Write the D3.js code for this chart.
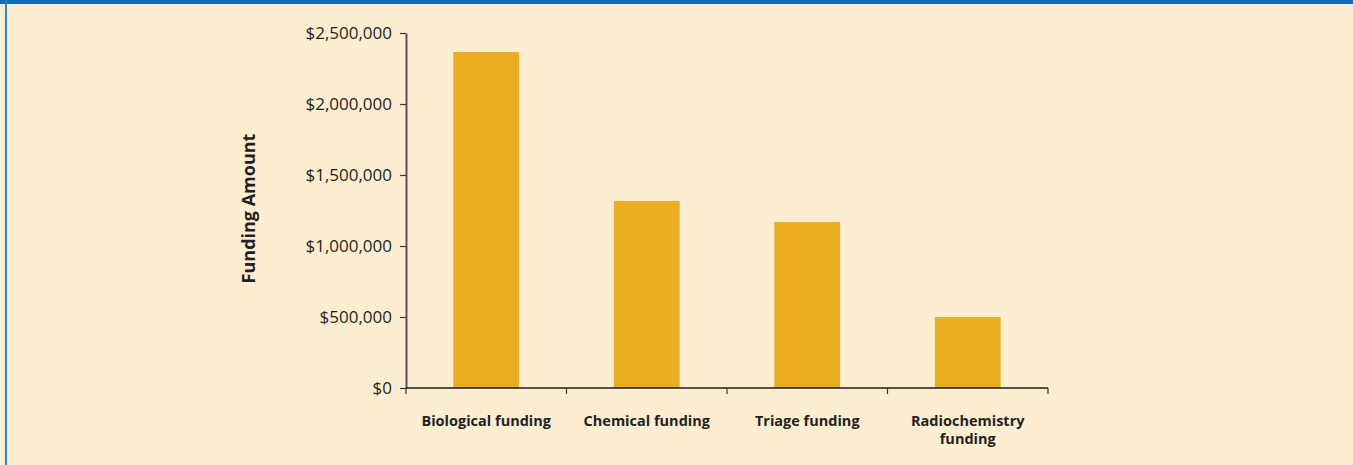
<!DOCTYPE html>
<html>
<head>
<meta charset="utf-8">
<script src="https://cdn.jsdelivr.net/npm/d3@7"></script>
<style>
  html, body { margin: 0; padding: 0; background: #FDEED2; }
  svg { display: block; }
</style>
</head>
<body>
<svg id="chart" width="1353" height="465"></svg>
<script>
// Funding by program area
const categories = ["Biological funding", "Chemical funding", "Triage funding", "Radiochemistry funding"];
const categoryLines = [["Biological funding"], ["Chemical funding"], ["Triage funding"], ["Radiochemistry", "funding"]];
const fundingValues = [2366000, 1317000, 1169000, 500000];
const yTickValues = [0, 500000, 1000000, 1500000, 2000000, 2500000];
const yAxisTitle = "Funding Amount";

const width = 1353, height = 465;
const margin = { top: 33, left: 406, right: 305, bottom: 77 };
const fontFamily = "'Open Sans', 'Liberation Sans', sans-serif";

const svg = d3.select("#chart");

// panel background and blue frame
svg.append("rect").attr("width", width).attr("height", height).attr("fill", "#FDEED2");
svg.append("rect").attr("x", 0).attr("y", 0).attr("width", width).attr("height", 4).attr("fill", "#0B6DB3");
svg.append("rect").attr("x", 5).attr("y", 0).attr("width", 2).attr("height", height).attr("fill", "#2A86C6");

const x = d3.scaleBand()
  .domain(categories)
  .range([margin.left, width - margin.right])
  .paddingInner(0.59)
  .paddingOuter(0.295);

const y = d3.scaleLinear()
  .domain([0, 2500000])
  .range([height - margin.bottom, margin.top]);

// bars
svg.append("g").selectAll("rect")
  .data(categories)
  .join("rect")
  .attr("x", d => x(d))
  .attr("y", (d, i) => y(fundingValues[i]))
  .attr("width", x.bandwidth())
  .attr("height", (d, i) => y(0) - y(fundingValues[i]))
  .attr("fill", "#EBAD22");

// y axis
const yAxis = svg.append("g")
  .attr("transform", `translate(${margin.left},0)`)
  .call(d3.axisLeft(y)
    .tickValues(yTickValues)
    .tickFormat(d => "$" + d3.format(",")(d))
    .tickSizeInner(6)
    .tickSizeOuter(0)
    .tickPadding(8));
yAxis.attr("font-family", fontFamily).attr("font-size", 17);
yAxis.select(".domain").attr("stroke", "#5a5550").attr("stroke-width", 2);
yAxis.selectAll(".tick line").attr("stroke", "#3a3632").attr("stroke-width", 1.2);
yAxis.selectAll(".tick text").attr("fill", "#231f20");

// x axis: ticks sit on the band boundaries
const xBase = y(0);
const xg = svg.append("g");
xg.append("line")
  .attr("x1", margin.left).attr("x2", width - margin.right)
  .attr("y1", xBase).attr("y2", xBase)
  .attr("stroke", "#1a1a1a").attr("stroke-width", 1.5);
const step = x.step();
const boundaries = d3.range(categories.length + 1).map(i => margin.left + i * step);
xg.selectAll("line.tick")
  .data(boundaries)
  .join("line")
  .attr("class", "tick")
  .attr("x1", d => d).attr("x2", d => d)
  .attr("y1", xBase).attr("y2", xBase + 6)
  .attr("stroke", "#3a3632").attr("stroke-width", 1.2);

// category labels
const labels = xg.selectAll("text.cat")
  .data(categories)
  .join("text")
  .attr("class", "cat")
  .attr("x", d => x(d) + x.bandwidth() / 2)
  .attr("y", xBase + 38)
  .attr("text-anchor", "middle")
  .attr("font-family", fontFamily)
  .attr("font-weight", "bold")
  .attr("font-size", 14.5)
  .attr("fill", "#231f20");
labels.each(function(d, i) {
  d3.select(this).selectAll("tspan")
    .data(categoryLines[i])
    .join("tspan")
    .attr("x", x(d) + x.bandwidth() / 2)
    .attr("dy", (t, j) => j === 0 ? 0 : 18)
    .text(t => t);
});

// y axis title
svg.append("text")
  .attr("transform", `translate(255, ${(margin.top + xBase) / 2 - 2}) rotate(-90)`)
  .attr("text-anchor", "middle")
  .attr("font-family", fontFamily)
  .attr("font-weight", "bold")
  .attr("font-size", 18)
  .attr("fill", "#231f20")
  .text(yAxisTitle);
</script>
</body>
</html>
